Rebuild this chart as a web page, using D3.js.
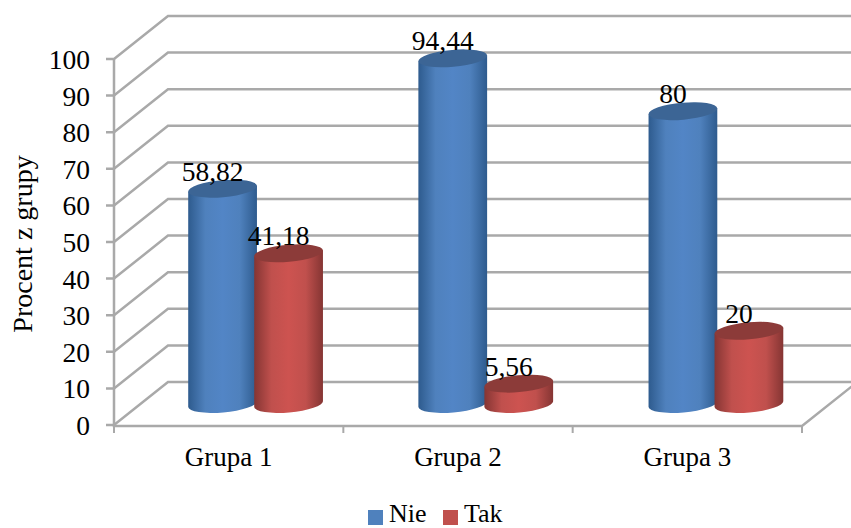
<!DOCTYPE html>
<html>
<head>
<meta charset="utf-8">
<script src="https://cdn.jsdelivr.net/npm/d3@7"></script>
<style>
  html, body { margin: 0; padding: 0; background: #fff; }
  text { font-family: "Liberation Serif", serif; fill: #000; }
</style>
</head>
<body>
<script>
const w = 851, h = 528;

const groups = ['Grupa 1', 'Grupa 2', 'Grupa 3'];
const seriesNames = ['Nie', 'Tak'];
const nie = [58.82, 94.44, 80];
const tak = [41.18, 5.56, 20];
const valueLabels = [['58,82', '94,44', '80'], ['41,18', '5,56', '20']];
const yTicks = [0, 10, 20, 30, 40, 50, 60, 70, 80, 90, 100];

const seriesValues = [nie, tak];
const colors = ['#4f81bd', '#c0504d'];
const midColors = ['#5285c6', '#cd5350'];
const topColors = ['#3c6595', '#8c3b39'];
const edgeColors = ['#2e5b8e', '#853533'];

const depthX = 54, depthY = -43;
const rx = 34.5, ry = 8.5, tilt = 5;

const svg = d3.select('body').append('svg')
  .attr('width', w)
  .attr('height', h)
  .style('display', 'block');

// front edge of the floor and the value axis
const x = d3.scaleBand().domain(groups).range([114, 802]);
const y = d3.scaleLinear().domain([0, 100]).range([425, 59]);

// cylinders stand halfway back on the floor
const xBar = d3.scaleBand().domain(groups).range([140.5, 831]);
const xSeries = d3.scaleBand().domain(seriesNames).range([-66, 66]);
const yBar = d3.scaleLinear().domain([0, 100]).range([404, 38]);

// side gradients
const defs = svg.append('defs');
seriesNames.forEach((name, i) => {
  const g = defs.append('linearGradient').attr('id', 'side' + i);
  g.selectAll('stop')
    .data([[0, edgeColors[i]], [0.25, colors[i]], [0.5, midColors[i]], [0.75, colors[i]], [1, edgeColors[i]]])
    .enter().append('stop')
    .attr('offset', d => d[0])
    .attr('stop-color', d => d[1]);
});

// walls and floor
const grid = svg.append('g')
  .attr('fill', 'none')
  .attr('stroke', '#a9a9a9')
  .attr('stroke-width', 2.5);

yTicks.forEach(t => {
  const py = y(t);
  grid.append('path').attr('d', `M106,${py}H114L${114 + depthX},${py + depthY}H${w + 5}`);
});
grid.append('path').attr('d', `M114,${y(100)}V${y(0) + 1}H${x.range()[1]}L${x.range()[1] + depthX},${y(0) + 1 + depthY}`);

const ticksX = groups.map(g => x(g)).concat(x.range()[1]);
grid.selectAll('.tick-x')
  .data(ticksX)
  .enter().append('path')
  .attr('class', 'tick-x')
  .attr('stroke-width', 2)
  .attr('d', d => `M${d},${y(0)}v8`);

// y labels
svg.selectAll('.y-label')
  .data(yTicks)
  .enter().append('text')
  .attr('class', 'y-label')
  .attr('x', 90)
  .attr('y', d => y(d) + 10)
  .attr('text-anchor', 'end')
  .attr('font-size', 27.5)
  .text(d => d);

svg.append('text')
  .attr('transform', 'translate(32,244) rotate(-90)')
  .attr('text-anchor', 'middle')
  .attr('font-size', 28)
  .text('Procent z grupy');

svg.selectAll('.x-label')
  .data(groups)
  .enter().append('text')
  .attr('class', 'x-label')
  .attr('x', d => x(d) + x.bandwidth() / 2)
  .attr('y', 466)
  .attr('text-anchor', 'middle')
  .attr('font-size', 27)
  .text(d => d);

// cylinders
const rad = tilt * Math.PI / 180;
const ex = rx * Math.cos(rad), ey = rx * Math.sin(rad);

function bodyPath(cx, v) {
  const top = yBar(v), bot = yBar(0);
  return `M${cx - ex},${top + ey}V${bot + ey}` +
    `A${rx},${ry} ${-tilt} 0 0 ${cx + ex},${bot - ey}` +
    `V${top - ey}Z`;
}

const barCenter = (g, name) => xBar(g) + xBar.bandwidth() / 2 + xSeries(name) + xSeries.bandwidth() / 2;

seriesNames.forEach((name, s) => {
  groups.forEach((g, i) => {
    const cx = barCenter(g, name);
    const v = seriesValues[s][i];
    svg.append('path')
      .attr('d', bodyPath(cx, v))
      .attr('fill', `url(#side${s})`);
    svg.append('ellipse')
      .attr('cx', cx)
      .attr('cy', yBar(v))
      .attr('rx', rx)
      .attr('ry', ry)
      .attr('transform', `rotate(${-tilt} ${cx} ${yBar(v)})`)
      .attr('fill', topColors[s]);
  });
});

// value labels go on last so they sit above the cylinders
seriesNames.forEach((name, s) => {
  groups.forEach((g, i) => {
    svg.append('text')
      .attr('x', barCenter(g, name) - 10)
      .attr('y', yBar(seriesValues[s][i]) - 8)
      .attr('text-anchor', 'middle')
      .attr('font-size', 27.5)
      .text(valueLabels[s][i]);
  });
});

// legend
const legendX = d3.scaleOrdinal().domain(seriesNames).range([368, 443]);
const legend = svg.selectAll('.legend')
  .data(seriesNames)
  .enter().append('g')
  .attr('class', 'legend')
  .attr('transform', d => `translate(${legendX(d)},510)`);
legend.append('rect')
  .attr('width', 15)
  .attr('height', 15)
  .attr('fill', (d, i) => colors[i]);
legend.append('text')
  .attr('x', 21)
  .attr('y', 12)
  .attr('font-size', 26)
  .text(d => d);
</script>
</body>
</html>
